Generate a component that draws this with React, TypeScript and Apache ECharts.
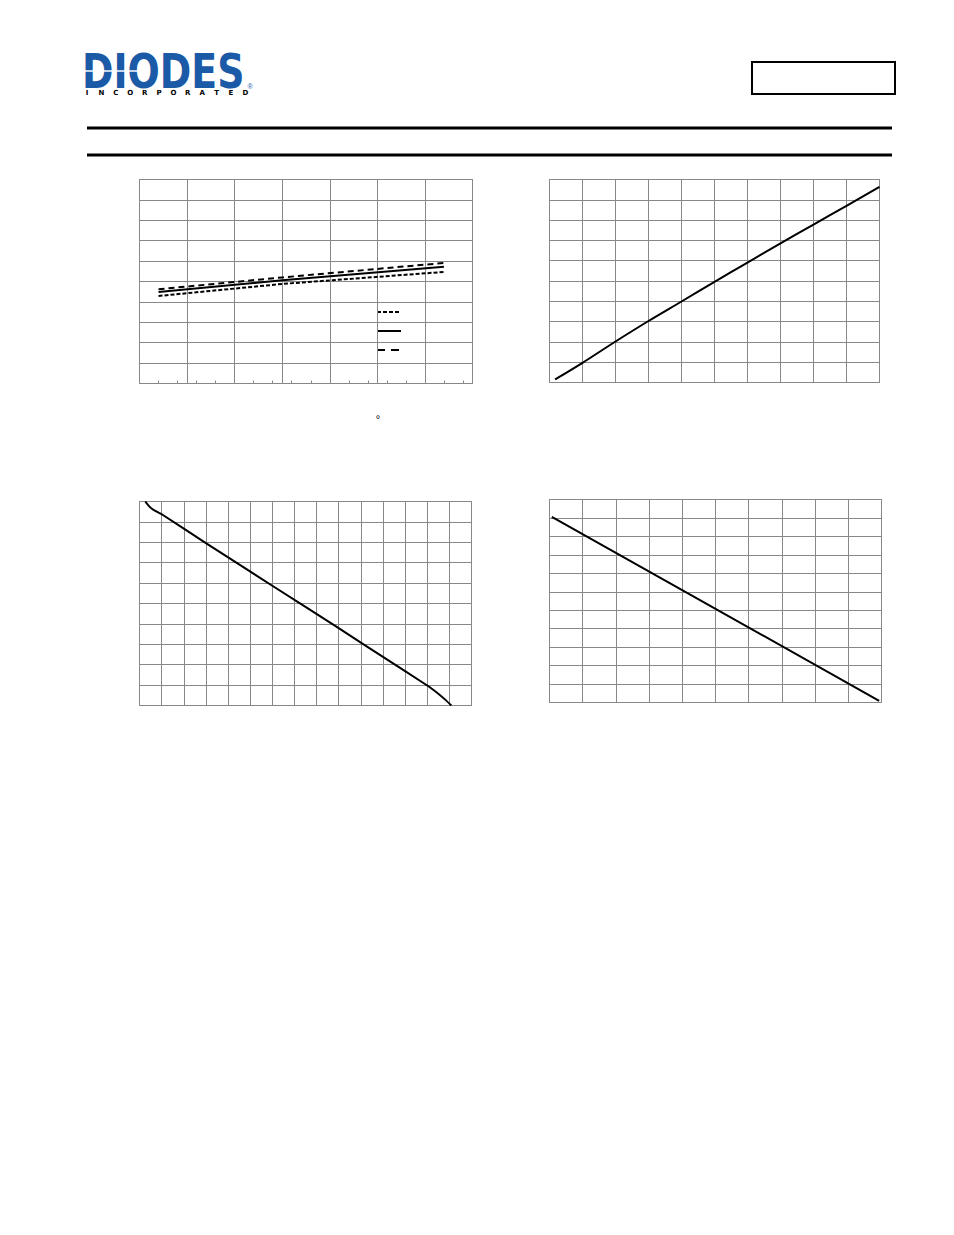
import React, { useEffect, useRef } from "react";
import * as echarts from "echarts";

// ---- Data ----
// Chart 1: temperature axis -50..125, three curves
const c1Temps = [-40, 25, 110];
const c1Upper = [4.62, 5.2, 5.91]; // long-dash
const c1Typical = [4.49, 5.06, 5.72]; // solid
const c1Lower = [4.29, 4.88, 5.47]; // short-dash

// Chart 2: rising, slightly concave
const c2X = [0.17, 1, 2, 3, 4, 5, 6, 7, 8, 9, 10];
const c2Y = [0.15, 0.97, 2.02, 3.03, 3.99, 4.96, 5.91, 6.85, 7.78, 8.7, 9.64];

// Chart 3: falling, with curved ends
const c3X = [0.26, 0.45, 0.65, 1.04, 3, 6, 9, 11, 13, 13.5, 13.8, 14.09];
const c3Y = [10, 9.75, 9.58, 9.35, 7.96, 5.87, 3.79, 2.38, 0.98, 0.58, 0.3, 0];

// Chart 4: falling straight line
const c4X = [0.07, 4.01, 9.93];
const c4Y = [10.06, 6.08, 0.09];

const logoLetters = ["I", "N", "C", "O", "R", "P", "O", "R", "A", "T", "E", "D"];

const GRID_COLOR = "#888888";

function pairs(xs: number[], ys: number[]) {
  return xs.map((x, i) => [x, ys[i]]);
}

function valueAxis(gridIndex: number, min: number, max: number, interval: number, extra: any = {}) {
  return {
    type: "value",
    gridIndex,
    min,
    max,
    interval,
    axisLine: { show: false },
    axisTick: { show: false },
    axisLabel: { show: false },
    splitLine: { show: true, lineStyle: { color: GRID_COLOR, width: 1 } },
    ...extra,
  };
}

export default function App() {
  const ref = useRef<HTMLDivElement>(null);

  useEffect(() => {
    if (!ref.current) return;
    const chart = echarts.init(ref.current, undefined, { renderer: "svg" });

    const gridBase = { show: true, borderColor: GRID_COLOR, borderWidth: 1, backgroundColor: "transparent" };

    const logoGraphics: any[] = [
      {
        type: "text",
        x: 82,
        y: 71,
        scaleX: 0.79,
        style: {
          text: "DIODES",
          fill: "#1b5aa6",
          font: "bold 48px 'DejaVu Sans', 'Liberation Sans', sans-serif",
          verticalAlign: "middle",
          align: "left",
        },
      },
      {
        type: "line",
        shape: { x1: 84, y1: 71, x2: 138, y2: 71 },
        style: { stroke: "#ffffff", lineWidth: 1.5 },
      },
      {
        type: "text",
        x: 250,
        y: 86,
        style: { text: "®", fill: "#1b5aa6", font: "7px 'Liberation Sans', sans-serif", align: "center", verticalAlign: "middle" },
      },
      ...logoLetters.map((l, i) => ({
        type: "text",
        x: 87 + i * 14.4,
        y: 93,
        style: {
          text: l,
          fill: "#000000",
          font: "bold 7px 'DejaVu Sans', sans-serif",
          align: "center",
          verticalAlign: "middle",
        },
      })),
    ];

    const option: any = {
      animation: false,
      backgroundColor: "#ffffff",
      grid: [
        { ...gridBase, left: 139.5, top: 179.5, width: 333, height: 204 },
        { ...gridBase, left: 549.5, top: 179.5, width: 330, height: 203 },
        { ...gridBase, left: 139.5, top: 501.5, width: 332, height: 204 },
        { ...gridBase, left: 549.5, top: 499.5, width: 332, height: 203 },
      ],
      xAxis: [
        valueAxis(0, -50, 125, 25),
        {
          type: "value",
          gridIndex: 0,
          min: -50,
          max: 125,
          interval: 10,
          position: "bottom",
          axisLine: { show: false },
          axisLabel: { show: false },
          splitLine: { show: false },
          axisTick: { show: true, inside: true, length: 3, lineStyle: { color: GRID_COLOR, width: 1 } },
        },
        valueAxis(1, 0, 10, 1),
        valueAxis(2, 0, 15, 1),
        valueAxis(3, 0, 10, 1),
      ],
      yAxis: [
        valueAxis(0, 0, 10, 1),
        valueAxis(1, 0, 10, 1),
        valueAxis(2, 0, 10, 1),
        valueAxis(3, 0, 11, 1),
      ],
      series: [
        {
          type: "line",
          xAxisIndex: 0,
          yAxisIndex: 0,
          showSymbol: false,
          data: pairs(c1Temps, c1Upper),
          lineStyle: { color: "#000", width: 2, type: [6, 4] },
        },
        {
          type: "line",
          xAxisIndex: 0,
          yAxisIndex: 0,
          showSymbol: false,
          data: pairs(c1Temps, c1Typical),
          lineStyle: { color: "#000", width: 2, type: "solid" },
        },
        {
          type: "line",
          xAxisIndex: 0,
          yAxisIndex: 0,
          showSymbol: false,
          data: pairs(c1Temps, c1Lower),
          lineStyle: { color: "#000", width: 2, type: [4, 2] },
        },
        {
          type: "line",
          xAxisIndex: 2,
          yAxisIndex: 1,
          showSymbol: false,
          smooth: 0.3,
          data: pairs(c2X, c2Y),
          lineStyle: { color: "#000", width: 2 },
        },
        {
          type: "line",
          xAxisIndex: 3,
          yAxisIndex: 2,
          showSymbol: false,
          smooth: 0.2,
          data: pairs(c3X, c3Y),
          lineStyle: { color: "#000", width: 2 },
        },
        {
          type: "line",
          xAxisIndex: 4,
          yAxisIndex: 3,
          showSymbol: false,
          data: pairs(c4X, c4Y),
          lineStyle: { color: "#000", width: 2 },
        },
      ],
      graphic: [
        ...logoGraphics,
        {
          type: "rect",
          shape: { x: 752, y: 62, width: 143, height: 32 },
          style: { fill: "transparent", stroke: "#000", lineWidth: 2 },
        },
        {
          type: "line",
          shape: { x1: 87, y1: 128, x2: 892, y2: 128 },
          style: { stroke: "#000", lineWidth: 3 },
        },
        {
          type: "line",
          shape: { x1: 87, y1: 155, x2: 892, y2: 155 },
          style: { stroke: "#000", lineWidth: 3 },
        },
        // legend samples (legend texts are blank in the reference)
        {
          type: "line",
          shape: { x1: 377, y1: 312, x2: 399, y2: 312 },
          style: { stroke: "#000", lineWidth: 2, lineDash: [4, 2] },
        },
        {
          type: "line",
          shape: { x1: 377, y1: 331, x2: 401, y2: 331 },
          style: { stroke: "#000", lineWidth: 2 },
        },
        {
          type: "line",
          shape: { x1: 377, y1: 350, x2: 399, y2: 350 },
          style: { stroke: "#000", lineWidth: 2, lineDash: [8, 6] },
        },
        {
          type: "text",
          x: 378,
          y: 419,
          style: { text: "°", fill: "#000", font: "11px 'Liberation Sans', sans-serif", align: "center", verticalAlign: "middle" },
        },
      ],
    };

    chart.setOption(option);
    return () => chart.dispose();
  }, []);

  return (
    <div
      ref={ref}
      style={{ position: "absolute", left: 0, top: 0, width: 954, height: 1235, background: "#fff" }}
    />
  );
}
